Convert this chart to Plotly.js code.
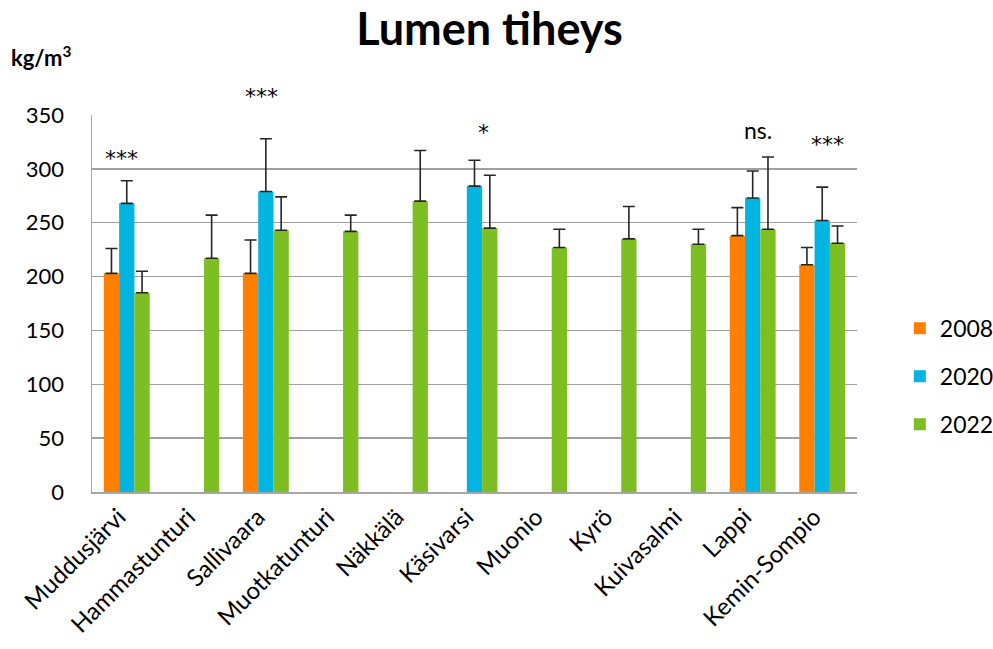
<!DOCTYPE html>
<html>
<head>
<meta charset="utf-8">
<script src="https://cdn.plot.ly/plotly-3.0.1.min.js"></script>
<style>html,body{margin:0;padding:0;background:#fff;}#chart{width:993px;height:649px;}</style>
</head>
<body>
<div id="chart"></div>
<script>
const categories = ["Muddusjärvi","Hammastunturi","Sallivaara","Muotkatunturi","Näkkälä","Käsivarsi","Muonio","Kyrö","Kuivasalmi","Lappi","Kemin-Sompio"];
const seriesNames = ["2008","2020","2022"];
const values2008 = [203, null, 203, null, null, null, null, null, null, 238, 211];
const values2020 = [268, null, 279, null, null, 284, null, null, null, 273, 252];
const values2022 = [185, 217, 243, 242, 270, 245, 227, 235, 230, 244, 231];
const err2008 = [23, null, 31, null, null, null, null, null, null, 26, 16];
const err2020 = [21, null, 49, null, null, 24, null, null, null, 25, 31];
const err2022 = [20, 40, 31, 15, 47, 49, 17, 30, 14, 67, 16];
const sigLabels = ["***", "***", "*", "ns.", "***"];
const sigX = [-0.07, 1.94, 5.13, 9.08, 10.07];
const sigY = [310, 367, 334, 336, 323];
const yMax = 350;

const colors = ["#FF8000", "#00B5E2", "#7DBE23"];
const vals = [values2008, values2020, values2022];
const errs = [err2008, err2020, err2022];

const FONT = "Lato, 'Open Sans', sans-serif";

const traces = vals.map((v, i) => ({
  type: "bar",
  name: seriesNames[i],
  legendgroup: "g" + i,
  x: categories,
  y: v,
  marker: {color: colors[i], line: {width: 0}},
  error_y: {type: "data", array: errs[i], arrayminus: errs[i].map(() => 0), symmetric: false,
            color: "#262626", thickness: 1.6, width: 6}
}));

const annotations = sigLabels.map((t, i) => ({
  text: t, x: sigX[i], y: sigY[i] / yMax, xref: "x", yref: "paper", showarrow: false,
  yanchor: "middle",
  font: t === "ns." ? {family: FONT, size: 23, color: "#000"}
                    : {family: "'DejaVu Sans', sans-serif", size: 22, color: "#000"}
}));
annotations.push({
  text: "<b>kg/m<sup>3</sup></b>", xref: "paper", yref: "paper", x: -0.108, y: 1.155,
  xanchor: "left", yanchor: "middle", showarrow: false,
  font: {family: FONT, size: 22, color: "#000"}
});

const layout = {
  width: 993, height: 649,
  margin: {l: 92, r: 136, t: 115, b: 157, autoexpand: false},
  paper_bgcolor: "#fff", plot_bgcolor: "#fff",
  title: {text: "<b>Lumen tiheys</b>", x: 0.493, xanchor: "center", y: 0.955, yanchor: "middle",
          font: {family: FONT, size: 45, color: "#000"}},
  barmode: "group",
  bargap: 0.34,
  bargroupgap: 0,
  showlegend: true,
  legend: {x: 1.056, xanchor: "left", y: 0.491, yanchor: "top", font: {family: FONT, size: 23, color: "#000"},
           tracegroupgap: 15, traceorder: "grouped", itemwidth: 30, bgcolor: "rgba(0,0,0,0)"},
  xaxis: {type: "category", tickangle: -45, tickfont: {family: FONT, size: 24, color: "#000"},
          showline: true, linecolor: "#a6a6a6", linewidth: 1.5, ticks: "", showgrid: false, automargin: false,
          ticklabelshift: -8},
  yaxis: {range: [0, yMax], dtick: 50, tickfont: {family: FONT, size: 22, color: "#000"},
          showline: true, linecolor: "#a6a6a6", linewidth: 1.5, gridcolor: "#a0a0a0", gridwidth: 1.5,
          ticks: "", ticklabelstandoff: 22, zeroline: false, automargin: false},
  annotations: annotations
};

Plotly.newPlot("chart", traces, layout, {staticPlot: true});
</script>
</body>
</html>
